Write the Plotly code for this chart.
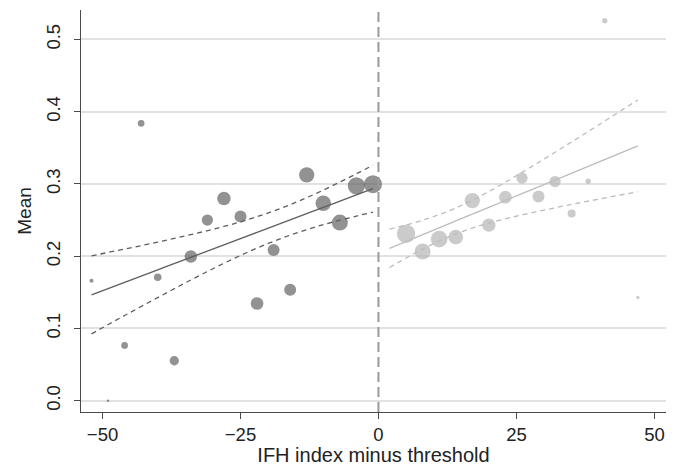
import plotly.graph_objects as go

# Left of threshold (dark)
left_x = [-52, -49, -46, -43, -40, -37, -34, -31, -28, -25, -22, -19, -16, -13, -10, -7, -4, -1]
left_y = [0.166, 0.0, 0.0765, 0.384, 0.171, 0.0553, 0.1996, 0.250, 0.280, 0.255, 0.1346, 0.2085,
          0.1535, 0.3126, 0.2734, 0.2466, 0.2974, 0.2997]
left_size = [4, 2.5, 6.7, 6.7, 7.5, 9.3, 12.5, 11.3, 13.5, 12, 12.7, 12, 12, 15.3, 15.5, 16, 17.3, 18]

# Right of threshold (light)
right_x = [5, 8, 11, 14, 17, 20, 23, 26, 29, 32, 35, 38, 41, 47]
right_y = [0.231, 0.2065, 0.2236, 0.2264, 0.277, 0.243, 0.2817, 0.3084, 0.2826, 0.3033, 0.259,
           0.3038, 0.526, 0.1429]
right_size = [18.5, 16, 16.7, 14.7, 15.3, 13.3, 12.7, 11.3, 12, 11.3, 8, 5.3, 5.3, 3.3]

# Fitted lines and confidence bands
lfit_x = [-52, -46, -40, -34, -28, -22, -16, -10, -4, -1]
lfit_y = [0.1466, 0.1639, 0.1812, 0.1985, 0.2157, 0.2330, 0.2503, 0.2676, 0.2848, 0.2935]
lci_hi = [0.2006, 0.2099, 0.2196, 0.2299, 0.2412, 0.2547, 0.2714, 0.2915, 0.3141, 0.326]
lci_lo = [0.0926, 0.1179, 0.1428, 0.1671, 0.1902, 0.2113, 0.2292, 0.2437, 0.2555, 0.261]

rfit_x = [2, 8, 14, 20, 26, 32, 38, 47]
rfit_y = [0.211, 0.2299, 0.2488, 0.2677, 0.2866, 0.3055, 0.3244, 0.3528]
rci_hi = [0.2376, 0.2499, 0.2667, 0.2895, 0.316, 0.344, 0.3726, 0.4163]
rci_lo = [0.1844, 0.2099, 0.2309, 0.2459, 0.2572, 0.267, 0.2762, 0.2893]

x_ticks = [-50, -25, 0, 25, 50]
y_ticks = [0.0, 0.1, 0.2, 0.3, 0.4, 0.5]

DARK = "#646464"
LIGHT = "#b5b5b5"
DARK_LINE = "#5e5e5e"
LIGHT_LINE = "#bcbcbc"
FONT = "Liberation Sans, Arial, sans-serif"

fig = go.Figure()

fig.add_trace(go.Scatter(x=left_x, y=left_y, mode="markers",
                         marker=dict(size=left_size, color=DARK, line=dict(width=0)),
                         showlegend=False))
fig.add_trace(go.Scatter(x=right_x, y=right_y, mode="markers",
                         marker=dict(size=right_size, color=LIGHT, line=dict(width=0)),
                         showlegend=False))

for xs, ys, col, dash in [
    (lfit_x, lfit_y, DARK_LINE, "solid"),
    (lfit_x, lci_hi, DARK_LINE, "5px,4px"),
    (lfit_x, lci_lo, DARK_LINE, "5px,4px"),
    (rfit_x, rfit_y, LIGHT_LINE, "solid"),
    (rfit_x, rci_hi, LIGHT_LINE, "5px,4px"),
    (rfit_x, rci_lo, LIGHT_LINE, "5px,4px"),
]:
    fig.add_trace(go.Scatter(x=xs, y=ys, mode="lines",
                             line=dict(color=col, width=1.3, dash=dash, shape="spline"),
                             showlegend=False))

fig.add_shape(type="line", xref="x", yref="paper", x0=0, x1=0, y0=0, y1=1,
              line=dict(color="#9a9a9a", width=2, dash="10px,5px"), layer="above")

fig.update_layout(
    width=680, height=466,
    margin=dict(l=81, r=14, t=10, b=54),
    paper_bgcolor="white", plot_bgcolor="white",
    font=dict(family=FONT, size=18.5, color="#222222"),
    xaxis=dict(range=[-53.9, 52.1], tickvals=x_ticks, showgrid=False, zeroline=False,
               automargin=False,
               showline=True, linecolor="#4a4a4a", linewidth=1.3,
               ticks="outside", ticklen=6, tickcolor="#4a4a4a", tickwidth=1.2,
               title=dict(text="IFH index minus threshold", font=dict(size=20), standoff=8)),
    yaxis=dict(range=[-0.0156, 0.5408], tickvals=y_ticks, tickformat=".1f", tickangle=-90,
               ticklabelstandoff=6, automargin=False,
               showgrid=True, gridcolor="#e2e2e2", gridwidth=1.5, zeroline=False,
               showline=True, linecolor="#4a4a4a", linewidth=1.3,
               ticks="outside", ticklen=6, tickcolor="#4a4a4a", tickwidth=1.2,
               title=dict(text="Mean", font=dict(size=19), standoff=6)),
)

fig.write_html("out.html")
